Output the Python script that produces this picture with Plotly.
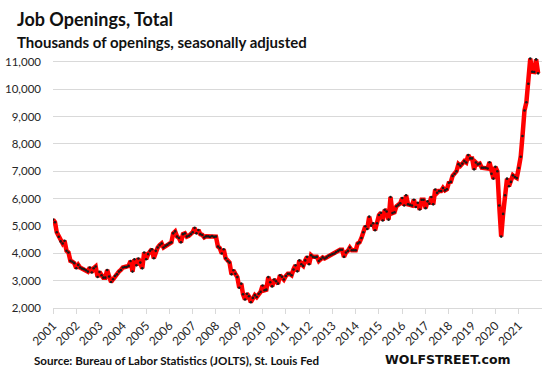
import pandas as pd
import plotly.graph_objects as go

# Job openings, thousands, seasonally adjusted (monthly, Jan 2001 - Nov 2021)
y2001 = [5233, 5135, 4767, 4607, 4435, 4360, 4460, 4092, 4030, 3724, 3690, 3640]
y2002 = [3455, 3576, 3480, 3440, 3420, 3380, 3330, 3480, 3300, 3455, 3515, 3135]
y2003 = [3320, 3200, 3110, 3110, 3390, 3150, 2950, 3050, 3170, 3230, 3330, 3390]
y2004 = [3480, 3500, 3500, 3540, 3720, 3330, 3780, 3560, 3810, 3660, 3450, 4030]
y2005 = [3780, 3970, 4090, 4150, 3820, 4090, 4210, 4300, 4360, 4210, 4270, 4310]
y2006 = [4370, 4400, 4730, 4800, 4610, 4560, 4400, 4700, 4730, 4610, 4640, 4700]
y2007 = [4770, 4930, 4730, 4850, 4700, 4670, 4580, 4620, 4620, 4600, 4630, 4600]
y2008 = [4610, 4250, 4190, 3990, 4150, 3820, 3720, 3660, 3230, 3380, 3250, 3130]
y2009 = [2740, 2890, 2500, 2310, 2520, 2430, 2210, 2370, 2470, 2400, 2520, 2590]
y2010 = [2820, 2650, 2670, 3130, 2940, 2790, 3040, 2980, 2890, 3200, 3140, 3040]
y2011 = [3170, 3250, 3250, 3200, 3410, 3560, 3340, 3740, 3600, 3540, 3740, 3870]
y2012 = [3600, 3930, 3870, 3850, 3870, 3720, 3780, 3850, 3810, 3850, 3910, 3940]
y2013 = [3970, 3990, 4050, 4090, 4130, 4130, 3870, 4030, 4090, 4210, 4110, 4110]
y2014 = [4110, 4360, 4400, 4560, 4770, 4990, 4890, 5340, 5010, 5100, 4840, 5100]
y2015 = [5400, 5480, 5200, 5590, 5530, 5230, 6060, 5470, 5500, 5720, 5770, 5830]
y2016 = [6020, 5750, 6120, 5790, 5770, 5750, 5960, 5690, 5850, 5600, 5960, 5960]
y2017 = [5650, 5900, 5810, 6060, 5790, 6330, 6210, 6280, 6280, 6390, 6300, 6340]
y2018 = [6580, 6610, 6830, 6910, 7000, 7260, 7200, 7280, 7370, 7320, 7590, 7470]
y2019 = [7470, 7070, 7320, 7250, 7280, 7130, 7130, 7130, 7100, 7330, 6910, 6730]
y2020 = [7160, 7000, 5750, 4610, 5440, 6120, 6730, 6450, 6610, 6850, 6790, 6750]
y2021 = [7120, 7530, 8290, 9220, 9520, 10200, 11120, 10640, 10630, 11090, 10580]

openings = (y2001 + y2002 + y2003 + y2004 + y2005 + y2006 + y2007 + y2008 + y2009
            + y2010 + y2011 + y2012 + y2013 + y2014 + y2015 + y2016 + y2017 + y2018
            + y2019 + y2020 + y2021)
months = pd.date_range("2001-01-01", periods=len(openings), freq="MS")

year_labels = [str(y) for y in range(2001, 2022)]
year_ticks = [f"{y}-01-01" for y in range(2001, 2022)]
y_ticks = list(range(2000, 12000, 1000))
y_tick_text = [f"{v:,}" for v in y_ticks]

FONT = "Lato"
TXT = "#262626"

W, H = 549, 374
ML, MR, MT, MB = 53, 7, 55, 66

fig = go.Figure()
fig.add_trace(go.Scatter(
    x=months, y=openings, mode="lines+markers",
    line=dict(color="#ff0000", width=4.5),
    marker=dict(color="#1a1a1a", size=2.6),
    hoverinfo="skip", showlegend=False,
))

def px_x(x):
    return (x - ML) / (W - ML - MR)

def px_y(y_from_top):
    return (H - y_from_top - MB) / (H - MT - MB)

fig.update_layout(
    width=W, height=H,
    margin=dict(l=ML, r=MR, t=MT, b=MB, pad=0, autoexpand=False),
    paper_bgcolor="white", plot_bgcolor="white",
    font=dict(family=FONT, color=TXT),
    xaxis=dict(
        range=["2001-01-01", "2022-01-01"],
        tickvals=year_ticks, ticktext=year_labels,
        tickangle=-45, tickfont=dict(size=12, color=TXT, family=FONT),
        showgrid=False, showline=True, linecolor="#d9d9d9", linewidth=1,
        ticks="outside", ticklen=5, tickcolor="#d9d9d9", zeroline=False,
        automargin=False,
    ),
    yaxis=dict(
        range=[2000, 11250],
        tickvals=y_ticks, ticktext=y_tick_text,
        tickfont=dict(size=11.5, color=TXT, family=FONT),
        showgrid=True, gridcolor="#d9d9d9", gridwidth=1,
        zeroline=False, showline=False, ticks="", ticklabelstandoff=11,
        automargin=False,
    ),
    annotations=[
        dict(text="<b>Job Openings, Total</b>", x=px_x(15), y=px_y(6),
             xref="paper", yref="paper", showarrow=False, xanchor="left", yanchor="top",
             font=dict(size=18, color="#111111")),
        dict(text="<b>Thousands of openings, seasonally adjusted</b>", x=px_x(15), y=px_y(31),
             xref="paper", yref="paper", showarrow=False, xanchor="left", yanchor="top",
             font=dict(size=15, color="#111111")),
        dict(text="<b>Source: Bureau of Labor Statistics (JOLTS), St. Louis Fed</b>",
             x=px_x(32), y=px_y(360), xref="paper", yref="paper", showarrow=False,
             xanchor="left", yanchor="middle", font=dict(size=11.6, color="#111111")),
        dict(text="<b>WOLFSTREET.com</b>", x=px_x(513), y=px_y(359), xref="paper", yref="paper",
             showarrow=False, xanchor="right", yanchor="middle",
             font=dict(size=12.5, color="#111111", family="DejaVu Sans")),
    ],
)

fig.write_html("out.html", config={"displayModeBar": False},
               post_script="document.body.style.margin='0';")
